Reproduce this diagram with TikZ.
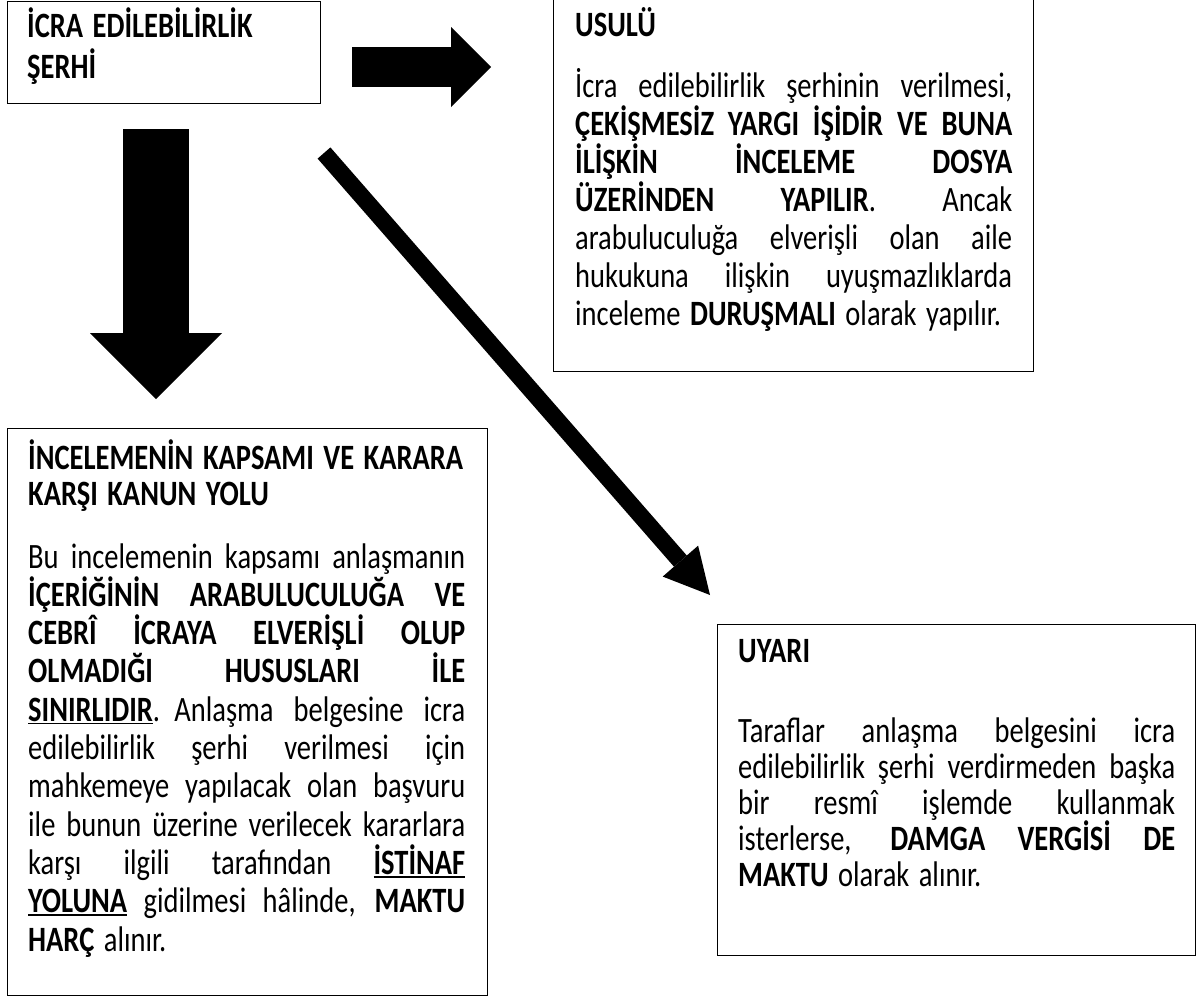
\documentclass[tikz,border=0pt]{standalone}
\usepackage{fontspec}
\setmainfont{Carlito}
\usetikzlibrary{arrows.meta}
% one justified line of a box
\newcommand{\jl}[1]{\leavevmode\hbox to 437pt{\spaceskip=0.226em plus 1fil\relax #1}}
% underlined word
\newcommand{\ulword}[1]{\setbox0\hbox{#1}\rlap{\rule[-2.6pt]{\wd0}{1.4pt}}\box0}

\begin{document}
\begin{tikzpicture}[x=1pt,y=-1pt]

    \tikzset{
      frame/.style={draw, line width=1.3pt, inner sep=0pt, anchor=north west},
      txt/.style={anchor=base west, inner sep=0pt, text width=437pt, align=left,
        yscale=1.25, font=\fontsize{28.5}{30.4}\selectfont},
      head/.style={txt, font=\fontsize{28.5}{32.8}\selectfont\bfseries},
    }
    \useasboundingbox (0,0) rectangle (1199,997);
    \fill[white] (0,0) rectangle (1199,997);

    % boxes
    \node[frame, minimum width=313pt, minimum height=102pt] (serhbox) at (7,1) {};
    \node[frame, minimum width=480pt, minimum height=374pt] (usulbox) at (553,-3) {};
    \node[frame, minimum width=480pt, minimum height=567pt] (kapsambox) at (7,428) {};
    \node[frame, minimum width=478pt, minimum height=331pt] (uyaribox) at (717,624) {};

    % texts
    \node[head, text width=290pt] (serhhead) at (27,37) {İCRA EDİLEBİLİRLİK\\ŞERHİ};

    \node[head] (usulhead) at (575,36) {USULÜ};
    \node[txt] (usulbody) at (575,97) {%
      \jl{İcra edilebilirlik şerhinin verilmesi,}\\
      \jl{\textbf{ÇEKİŞMESİZ YARGI İŞİDİR VE BUNA}}\\
      \jl{\textbf{İLİŞKİN İNCELEME DOSYA}}\\
      \jl{\textbf{ÜZERİNDEN YAPILIR}. Ancak}\\
      \jl{arabuluculuğa elverişli olan aile}\\
      \jl{hukukuna ilişkin uyuşmazlıklarda}\\
      inceleme \textbf{DURUŞMALI} olarak yapılır.};

    \node[head, font=\fontsize{28.5}{28.8}\selectfont\bfseries] (kapsamhead) at (28,469)
      {İNCELEMENİN KAPSAMI VE KARARA\\KARŞI KANUN YOLU};
    \node[txt, font=\fontsize{28.5}{30.64}\selectfont] (kapsambody) at (28,568) {%
      \jl{Bu incelemenin kapsamı anlaşmanın}\\
      \jl{\textbf{İÇERİĞİNİN ARABULUCULUĞA VE}}\\
      \jl{\textbf{CEBRÎ İCRAYA ELVERİŞLİ OLUP}}\\
      \jl{\textbf{OLMADIĞI HUSUSLARI İLE}}\\
      \jl{\textbf{\ulword{SINIRLIDIR}}. Anlaşma belgesine icra}\\
      \jl{edilebilirlik şerhi verilmesi için}\\
      \jl{mahkemeye yapılacak olan başvuru}\\
      \jl{ile bunun üzerine verilecek kararlara}\\
      \jl{karşı ilgili tarafından \textbf{\ulword{İSTİNAF}}}\\
      \jl{\textbf{\ulword{YOLUNA}} gidilmesi hâlinde, \textbf{MAKTU}}\\
      \textbf{HARÇ} alınır.};

    \node[head] (uyarihead) at (738,662) {UYARI};
    \node[txt, font=\fontsize{28.5}{28.8}\selectfont] (uyaribody) at (738,742) {%
      \jl{Taraflar anlaşma belgesini icra}\\
      \jl{edilebilirlik şerhi verdirmeden başka}\\
      \jl{bir resmî işlemde kullanmak}\\
      \jl{isterlerse, \textbf{DAMGA VERGİSİ DE}}\\
      \textbf{MAKTU} olarak alınır.};

    % arrows
    \coordinate (rarrow0) at (352,67);
    \coordinate (rarrow1) at (491,67);
    \coordinate (darrow0) at (156,129);
    \coordinate (darrow1) at (156,399);
    \coordinate (sarrow0) at (324,153);
    \coordinate (sarrow1) at (710,595);
    \draw[line width=40pt, -{Triangle[length=40pt, width=80pt, line width=0pt]}] (rarrow0) -- (rarrow1);
    \draw[line width=66pt, -{Triangle[length=66pt, width=132pt, line width=0pt]}] (darrow0) -- (darrow1);
    \draw[line width=17pt, -{Triangle[length=45pt, width=47pt, line width=0pt]}] (sarrow0) -- (sarrow1);

\end{tikzpicture}
\end{document}
